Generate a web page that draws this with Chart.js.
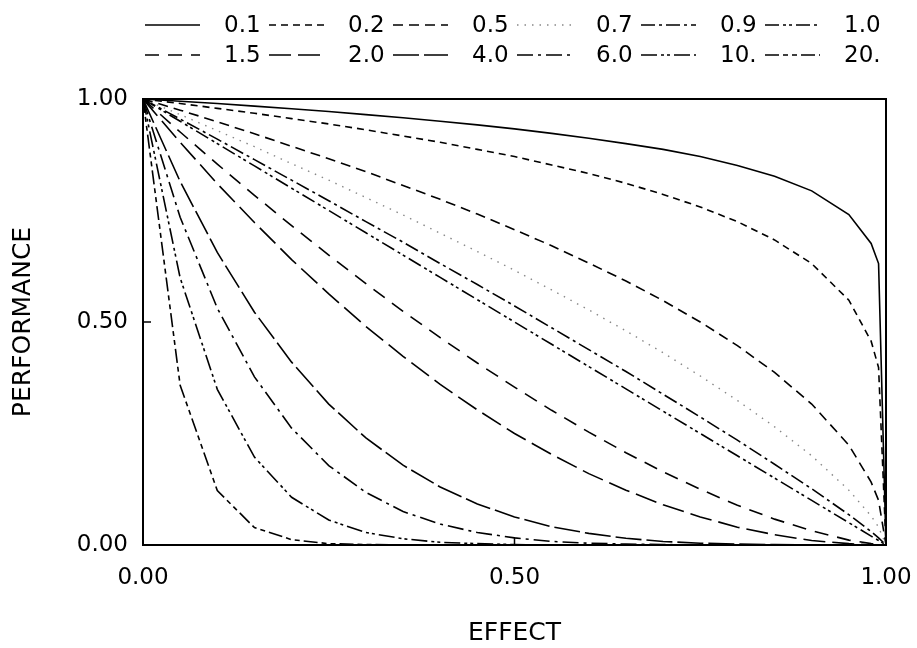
<!DOCTYPE html>
<html>
<head>
<meta charset="utf-8">
<script src="https://cdn.jsdelivr.net/npm/chart.js@4.4.1/dist/chart.umd.min.js"></script>
<style>
html,body{margin:0;padding:0;background:#fff;}
#wrap{width:917px;height:648px;}
</style>
</head>
<body>
<div id="wrap"><canvas id="c" width="917" height="648"></canvas></div>
<script>
// ---- data ----
const effect = [0, 0.05, 0.1, 0.15, 0.2, 0.25, 0.3, 0.35, 0.4, 0.45, 0.5, 0.55, 0.6, 0.65, 0.7, 0.75, 0.8, 0.85, 0.9, 0.95, 0.98, 0.99, 1.0];
const seriesLabels = ['0.1', '0.2', '0.5', '0.7', '0.9', '1.0', '1.5', '2.0', '4.0', '6.0', '10.', '20.'];
const perf01  = [1, .995, .990, .984, .978, .972, .965, .958, .950, .942, .933, .923, .912, .900, .887, .871, .851, .827, .794, .741, .676, .631, 0];
const perf02  = [1, .990, .979, .968, .956, .944, .931, .917, .903, .887, .871, .852, .833, .811, .786, .758, .725, .684, .631, .549, .457, .398, 0];
const perf05  = [1, .975, .949, .922, .894, .866, .837, .806, .775, .742, .707, .671, .632, .592, .548, .500, .447, .387, .316, .224, .141, .100, 0];
const perf07  = [1, .965, .929, .893, .855, .818, .779, .740, .699, .658, .616, .572, .527, .480, .431, .379, .324, .265, .200, .123, .065, .040, 0];
const perf09  = [1, .955, .910, .864, .818, .772, .725, .679, .631, .584, .536, .487, .438, .389, .338, .287, .235, .181, .126, .068, .030, .016, 0];
const perf10  = [1, .950, .900, .850, .800, .750, .700, .650, .600, .550, .500, .450, .400, .350, .300, .250, .200, .150, .100, .050, .020, .010, 0];
const perf15  = [1, .926, .854, .784, .716, .650, .586, .524, .465, .408, .354, .302, .253, .207, .164, .125, .089, .058, .032, .011, .003, .001, 0];
const perf20  = [1, .903, .810, .723, .640, .563, .490, .423, .360, .303, .250, .203, .160, .123, .090, .063, .040, .023, .010, .003, 0, 0, 0];
const perf40  = [1, .815, .656, .522, .410, .316, .240, .179, .130, .092, .063, .041, .026, .015, .008, .004, .002, .001, 0, 0, 0, 0, 0];
const perf60  = [1, .735, .531, .377, .262, .178, .118, .075, .047, .028, .016, .008, .004, .002, .001, 0, 0, 0, 0, 0, 0, 0, 0];
const perf100 = [1, .599, .349, .197, .107, .056, .028, .014, .006, .003, .001, 0, 0, 0, 0, 0, 0, 0, 0, 0, 0, 0, 0];
const perf200 = [1, .358, .122, .039, .012, .003, .001, 0, 0, 0, 0, 0, 0, 0, 0, 0, 0, 0, 0, 0, 0, 0, 0];
const yTicks = [0, 0.5, 1];
const xTicks = [0, 0.5, 1];

const allSeries = [perf01, perf02, perf05, perf07, perf09, perf10, perf15, perf20, perf40, perf60, perf100, perf200];

// ---- styles ----
const dashes = [
  [],
  [7, 5],
  [10, 6],
  [1.5, 6],
  [14, 4, 3, 4],
  [14, 4, 3, 3, 3, 4],
  [14, 9],
  [22, 7],
  [26, 5],
  [16, 5, 3, 5],
  [16, 4, 3, 3, 3, 4],
  [14, 4, 5, 4, 5, 4]
];
const colors = ['#000','#000','#000','#888','#000','#000','#000','#000','#000','#000','#000','#000'];

const datasets = allSeries.map((s, i) => ({
  label: seriesLabels[i],
  data: effect.map((x, j) => ({x: x, y: s[j]})),
  borderColor: colors[i],
  borderWidth: i === 3 ? 1.4 : 1.6,
  borderDash: dashes[i],
  pointRadius: 0,
  tension: 0,
  fill: false
}));

const FONT = '"DejaVu Sans", "Liberation Sans", sans-serif';

const framePlugin = {
  id: 'frame',
  afterDraw(chart) {
    const {ctx, chartArea: a, scales} = chart;
    ctx.save();
    ctx.strokeStyle = '#000';
    ctx.lineWidth = 2;
    ctx.setLineDash([]);
    ctx.strokeRect(a.left, a.top, a.right - a.left, a.bottom - a.top);
    ctx.lineWidth = 1.5;
    xTicks.forEach(v => {
      const px = scales.x.getPixelForValue(v);
      ctx.beginPath(); ctx.moveTo(px, a.bottom); ctx.lineTo(px, a.bottom - 8); ctx.stroke();
    });
    yTicks.forEach(v => {
      const py = scales.y.getPixelForValue(v);
      ctx.beginPath(); ctx.moveTo(a.left, py); ctx.lineTo(a.left + 8, py); ctx.stroke();
    });
    ctx.font = '23px ' + FONT;
    ctx.textBaseline = 'middle';
    ctx.textAlign = 'left';
    ctx.fillStyle = '#000';
    chart.data.datasets.forEach((ds, i) => {
      const row = Math.floor(i / 6), col = i % 6;
      const x0 = 145 + col * 124, y = 25 + row * 30;
      ctx.strokeStyle = ds.borderColor;
      ctx.lineWidth = ds.borderWidth;
      ctx.setLineDash(ds.borderDash || []);
      ctx.beginPath(); ctx.moveTo(x0, y); ctx.lineTo(x0 + 55, y); ctx.stroke();
      ctx.setLineDash([]);
      ctx.fillText(ds.label, x0 + 79, y + 1);
    });
    ctx.restore();
  }
};

new Chart(document.getElementById('c'), {
  type: 'line',
  data: {datasets: datasets},
  plugins: [framePlugin],
  options: {
    responsive: false,
    animation: false,
    devicePixelRatio: 1,
    layout: {padding: {top: 99, right: 31, bottom: 0, left: 0}},
    plugins: {legend: {display: false}, tooltip: {enabled: false}},
    scales: {
      x: {
        type: 'linear', min: 0, max: 1,
        grid: {display: false, drawTicks: false},
        border: {display: false},
        afterBuildTicks: s => { s.ticks = xTicks.map(v => ({value: v})); },
        afterFit: s => { s.height = 103; s.paddingLeft = 0; s.paddingRight = 0; },
        ticks: {
          font: {family: FONT, size: 23}, color: '#000', padding: 19,
          maxRotation: 0,
          callback: v => Number(v).toFixed(2)
        },
        title: {display: true, text: 'EFFECT', color: '#000', font: {family: FONT, size: 25}, padding: {top: 0, bottom: 0}}
      },
      y: {
        type: 'linear', min: 0, max: 1,
        grid: {display: false, drawTicks: false},
        border: {display: false},
        afterBuildTicks: s => { s.ticks = yTicks.map(v => ({value: v})); },
        afterFit: s => { s.width = 143; s.paddingTop = 0; s.paddingBottom = 0; },
        ticks: {
          font: {family: FONT, size: 23}, color: '#000', padding: 15,
          callback: v => Number(v).toFixed(2)
        },
        title: {display: true, text: 'PERFORMANCE', color: '#000', font: {family: FONT, size: 25}, padding: {top: 8, bottom: 0}}
      }
    }
  }
});
</script>
</body>
</html>
